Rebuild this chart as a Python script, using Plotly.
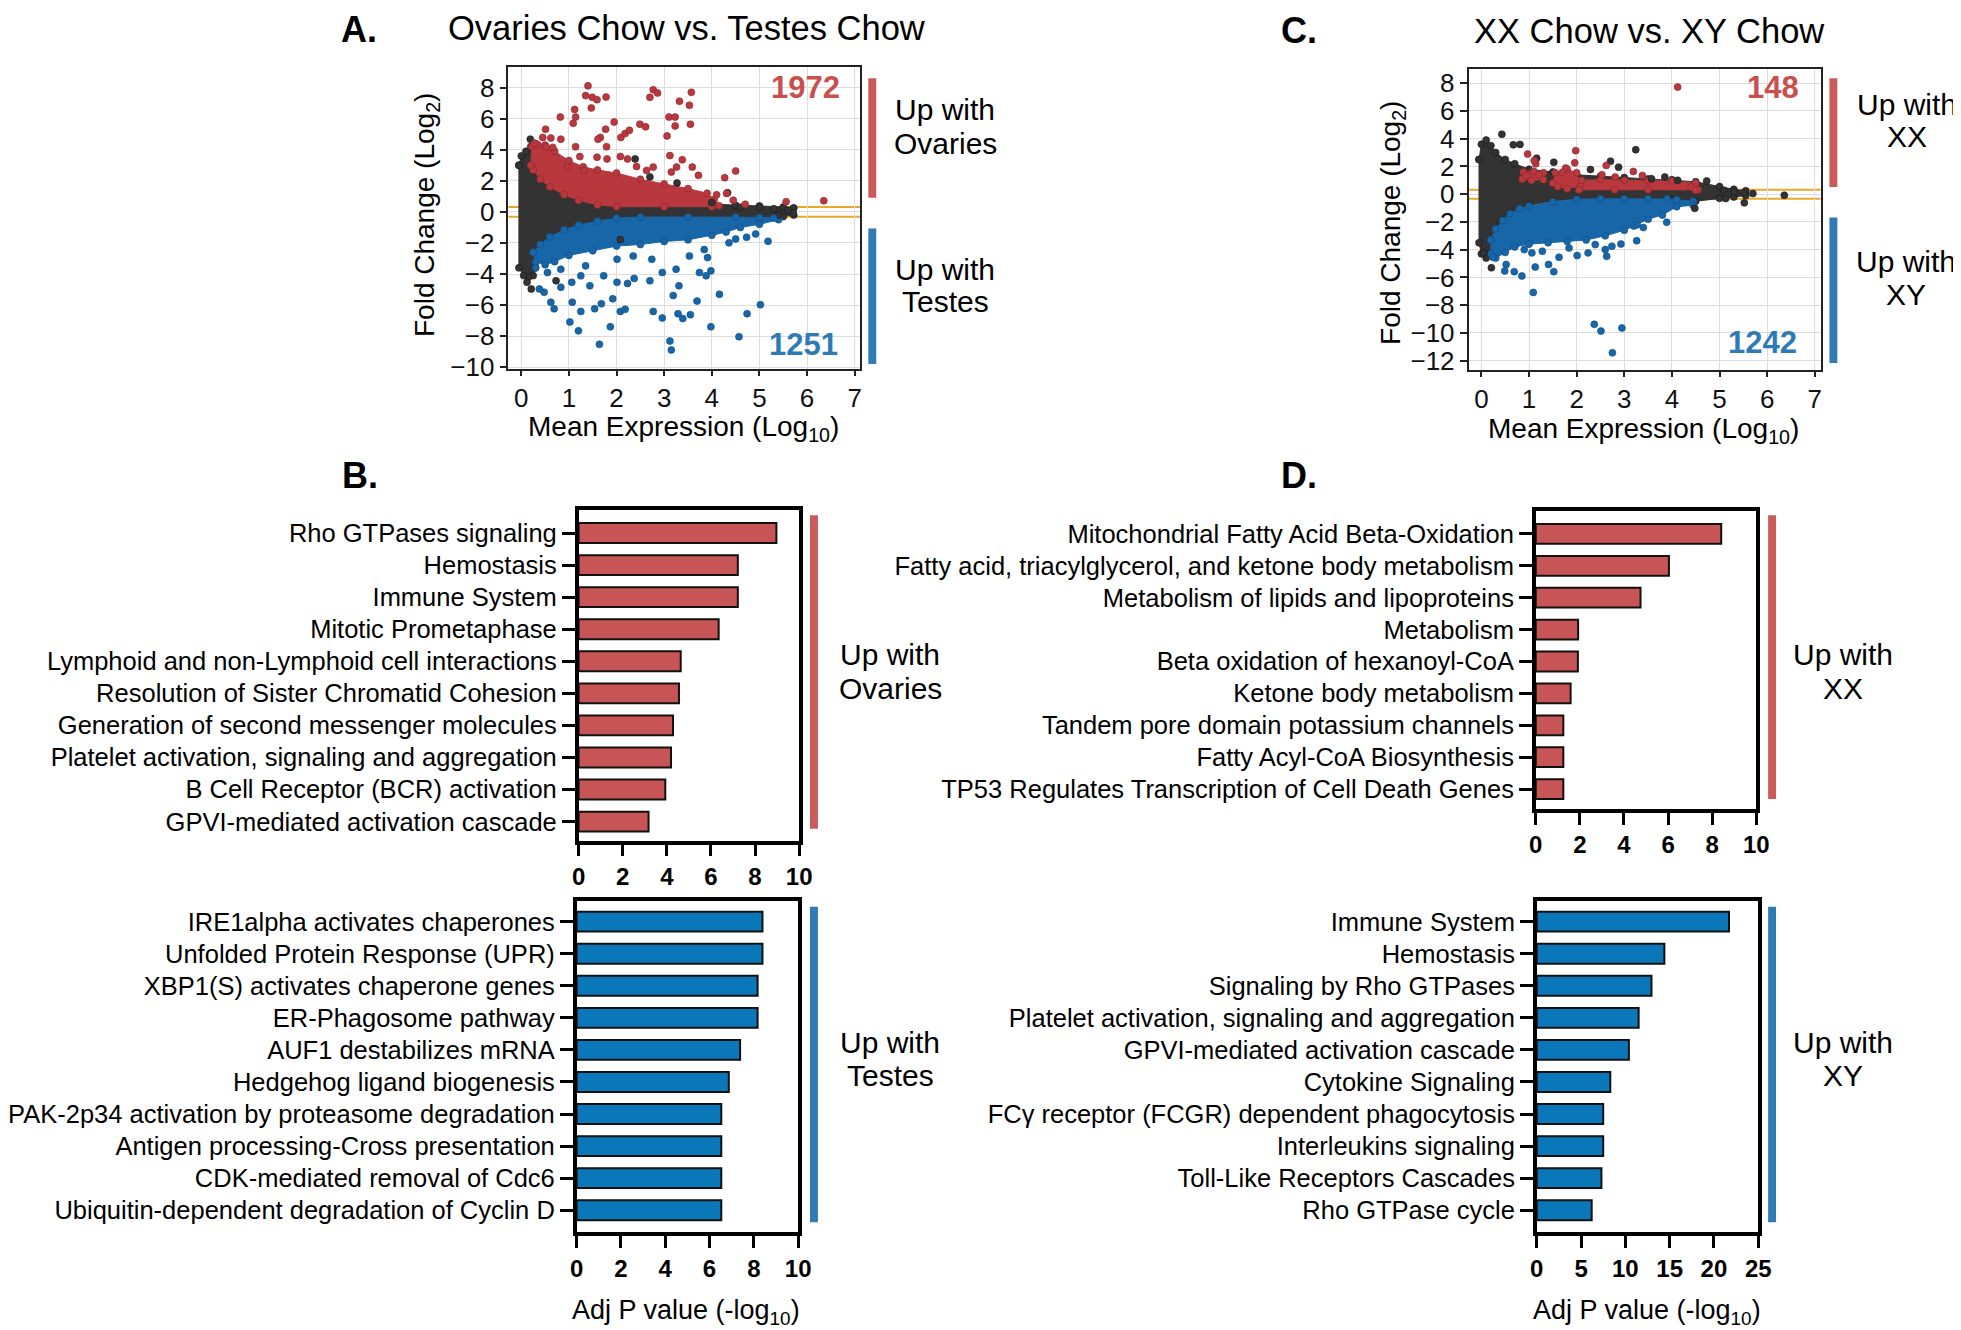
import plotly.graph_objects as go

W, H = 1961, 1330
FONT = "Liberation Sans, Arial, sans-serif"
NARROW = "Liberation Sans Narrow, Liberation Sans, Arial, sans-serif"

RED = "#B9383E"
RED_EDGE = "#8C272C"
BLUE = "#1766A8"
BLUE_EDGE = "#0F4E85"
GREY = "#333333"
GREY_EDGE = "#1A1A1A"
BAR_RED = "#C85556"
BAR_BLUE = "#0A78B8"
SIDE_RED = "#CB5A5A"
SIDE_BLUE = "#2E7BB5"
THRESH_COLOR = "#E6A92A"

THRESHOLD = 0.32

# ---------------- Panel A: Ovaries Chow vs. Testes Chow (MA plot) ----------------
# dense cloud outlines (mean expression log10, fold change log2)
a_all_outline = [(-0.05, 3.0), (0.0, 3.6), (0.1, 3.9), (0.2, 4.2), (0.5, 3.0), (1.0, 2.0),
                 (2.0, 1.0), (3.0, 0.6), (4.0, 0.5), (4.5, 0.42), (5.0, 0.38), (5.5, 0.32),
                 (5.72, 0.25), (5.72, -0.2), (5.5, -0.3), (5.0, -0.5), (4.0, -0.6),
                 (3.0, -0.8), (2.0, -1.0), (1.0, -1.8), (0.5, -2.8), (0.3, -3.6),
                 (0.25, -4.1), (0.15, -4.2), (0.05, -4.1), (-0.05, -3.6)]
a_up_outline = [(0.2, 3.0), (0.22, 4.2), (0.3, 4.4), (0.5, 4.3), (0.7, 3.9), (1.0, 3.3),
                (1.3, 2.9), (1.6, 2.7), (2.0, 2.5), (2.5, 2.1), (3.0, 1.8), (3.5, 1.5),
                (3.9, 1.2), (4.05, 0.8), (4.15, 0.4), (4.0, 0.33), (3.0, 0.33), (2.0, 0.33),
                (1.6, 0.45), (1.2, 0.75), (0.9, 1.1), (0.6, 1.6), (0.4, 2.1), (0.25, 2.7)]
a_down_outline = [(0.25, -2.6), (0.4, -2.1), (0.6, -1.6), (0.9, -1.15), (1.2, -0.85),
                  (1.6, -0.6), (2.0, -0.4), (2.5, -0.33), (3.5, -0.33), (4.5, -0.33),
                  (5.0, -0.36), (5.4, -0.36), (5.4, -0.5), (5.0, -0.8), (4.6, -1.0),
                  (4.3, -1.3), (4.0, -1.5), (3.5, -1.8), (3.0, -1.9), (2.5, -2.1),
                  (2.0, -2.2), (1.5, -2.5), (1.0, -2.8), (0.7, -3.2), (0.5, -3.4), (0.3, -3.2)]
a_up_points = [(1.40, 8.11), (1.35, 7.48), (1.49, 7.37), (1.59, 7.22), (1.78, 7.39), (1.47, 6.69),
               (1.12, 6.59), (1.14, 6.10), (1.09, 5.70), (0.82, 6.10), (0.51, 5.32), (1.95, 5.78),
               (1.77, 5.32), (1.66, 4.79), (1.61, 4.68), (1.79, 4.19), (2.09, 4.79), (2.18, 5.04),
               (2.27, 5.25), (2.49, 5.64), (2.61, 5.47), (2.77, 7.86), (2.86, 7.65), (2.70, 7.37),
               (3.57, 7.69), (3.32, 7.12), (3.53, 6.86), (3.10, 6.10), (3.23, 6.10), (3.23, 5.53),
               (3.06, 4.89), (3.55, 5.64), (3.38, 3.35), (3.59, 2.88), (3.72, 2.35), (4.27, 2.20),
               (4.50, 2.63), (4.31, 1.19), (4.70, 0.49), (5.56, 0.66), (3.12, 3.62), (3.26, 2.88),
               (3.15, 2.56), (2.77, 2.88), (2.63, 2.67), (2.42, 2.92), (2.08, 3.56), (2.23, 3.41),
               (1.80, 3.41), (1.59, 3.52), (1.23, 3.56), (1.14, 4.19), (0.83, 4.68), (0.62, 4.75),
               (0.45, 4.79), (0.35, 4.32), (0.28, 4.41), (0.52, 4.19), (0.66, 4.15), (0.97, 2.88),
               (1.32, 2.67), (6.35, 0.72), (4.45, 0.75), (4.1, 1.1)]
a_ns_points = [(0.19, 4.68), (2.39, 3.41), (3.27, 1.86), (4.33, 1.23), (2.08, -1.78), (0.12, -4.53),
               (0.21, -4.96), (0.73, -4.43), (5.71, 0.23), (5.71, -0.08), (2.70, 2.25), (4.0, 0.6),
               (4.6, 0.3), (5.0, 0.3), (5.3, 0.2), (5.4, -0.2), (5.6, 0.1)]
a_down_points = [(1.64, -8.52), (3.12, -8.31), (3.15, -8.88), (4.57, -8.03), (1.02, -7.08),
                 (1.20, -7.65), (1.25, -6.40), (1.87, -7.39), (2.08, -6.40), (2.18, -6.27),
                 (2.77, -6.40), (2.96, -6.82), (3.29, -6.55), (3.39, -6.86), (3.55, -6.61),
                 (3.98, -7.39), (4.74, -6.55), (5.02, -5.97), (4.16, -5.30), (3.69, -5.74),
                 (3.19, -5.38), (3.31, -4.75), (2.70, -4.43), (2.37, -4.28), (2.23, -4.60),
                 (2.01, -4.53), (1.92, -5.59), (1.68, -5.91), (1.54, -6.23), (1.44, -4.75),
                 (1.07, -5.81), (1.06, -4.53), (0.69, -6.23), (0.62, -5.81), (0.48, -5.17),
                 (0.38, -4.96), (0.83, -4.85), (3.88, -4.11), (3.98, -3.79), (3.74, -3.90),
                 (3.91, -2.94), (3.84, -2.42), (4.36, -1.99), (4.50, -1.74), (4.73, -1.63),
                 (4.92, -1.42), (5.18, -1.89), (5.30, -0.40), (2.96, -3.90), (2.74, -3.05),
                 (2.35, -2.84), (1.73, -4.11), (1.35, -3.47), (1.25, -4.11), (0.83, -3.69),
                 (2.01, -3.05), (3.25, -3.69), (3.53, -2.84), (0.55, -3.9), (0.3, -3.6)]

# ---------------- Panel C: XX Chow vs. XY Chow (MA plot) ----------------
c_all_outline = [(-0.05, 2.5), (0.0, 3.6), (0.1, 3.9), (0.2, 3.5), (0.3, 3.0), (0.5, 2.5),
                 (0.7, 2.2), (1.0, 1.8), (1.5, 1.6), (2.0, 1.4), (2.5, 1.3), (3.0, 1.2),
                 (3.5, 1.1), (4.0, 1.05), (4.5, 0.9), (5.0, 0.55), (5.3, 0.35), (5.55, 0.25),
                 (5.55, -0.1), (5.3, -0.2), (5.0, -0.3), (4.5, -0.5), (4.0, -0.4), (3.0, -0.3),
                 (2.0, -0.35), (1.5, -0.5), (1.0, -0.8), (0.6, -1.4), (0.4, -2.0), (0.25, -3.3),
                 (0.2, -4.3), (0.1, -4.6), (0.0, -4.3), (-0.05, -3.5)]
c_up_outlines = [
    [(0.86, 1.1), (0.88, 1.6), (1.1, 1.65), (1.3, 1.55), (1.3, 1.05), (1.05, 1.0)],
    [(1.5, 0.8), (1.55, 1.55), (1.8, 1.8), (2.0, 1.55), (2.08, 0.6), (1.8, 0.4), (1.6, 0.55)],
    [(2.05, 0.32), (2.1, 1.0), (2.5, 1.05), (3.0, 1.0), (3.5, 0.98), (4.0, 0.95),
     (4.5, 0.8), (4.55, 0.32), (3.5, 0.32), (2.8, 0.32)],
]
c_down_outline = [(0.2, -3.3), (0.3, -2.5), (0.45, -1.9), (0.6, -1.4), (0.8, -1.05), (1.0, -0.85),
                  (1.5, -0.55), (2.0, -0.36), (2.5, -0.33), (3.0, -0.33), (3.5, -0.33),
                  (3.9, -0.34), (4.1, -0.4), (4.45, -0.5), (4.45, -0.8), (4.1, -0.9), (3.8, -1.5),
                  (3.5, -1.8), (3.2, -2.3), (3.0, -2.6), (2.6, -3.0), (2.2, -3.3), (1.8, -3.4),
                  (1.4, -3.5), (1.0, -3.6), (0.7, -3.8), (0.5, -4.2), (0.3, -4.6), (0.2, -4.3)]
c_up_points = [(4.12, 7.72), (0.97, 2.90), (1.98, 3.14), (2.62, 2.07), (1.96, 2.26), (3.19, 1.64),
               (3.38, 1.35), (1.77, 1.88), (1.70, 1.59), (1.14, 2.19), (1.11, 2.42), (0.94, 1.35),
               (1.21, 1.40), (2.53, 1.40), (2.81, 1.24), (4.40, 0.52), (4.50, 0.28)]
c_ns_points = [(0.43, 4.32), (0.67, 3.56), (0.81, 3.59), (3.24, 3.21), (2.71, 2.38), (1.52, 2.30),
               (1.16, 2.59), (2.29, 1.78), (2.88, 1.95), (4.73, 0.95), (5.51, 0.10), (5.70, 0.05),
               (6.36, -0.07), (5.52, -0.62), (4.48, -1.02), (0.21, -5.30), (0.05, -4.23),
               (3.57, 1.12), (3.85, 1.24), (4.12, 1.0), (5.09, 0.28), (5.30, 0.17), (5.13, -0.31)]
c_down_points = [(2.75, -11.43), (2.37, -9.38), (2.51, -9.86), (2.95, -9.64), (1.09, -7.08),
                 (0.85, -5.89), (0.49, -5.53), (0.69, -5.58), (1.52, -5.58), (1.13, -5.25),
                 (1.41, -5.06), (0.52, -5.06), (0.24, -4.54), (1.63, -4.54), (2.01, -4.42),
                 (2.24, -4.23), (2.63, -4.47), (2.60, -3.99), (2.93, -3.59), (3.26, -3.35),
                 (3.89, -2.02), (3.40, -2.40), (3.27, -2.21), (1.06, -4.23), (1.28, -4.11),
                 (0.90, -3.99), (1.84, -3.87), (2.39, -3.63), (2.74, -3.75)]

a_counts = (1972, 1251)
c_counts = (148, 1242)

# ---------------- Panel B: pathways (Ovaries / Testes) ----------------
b_up_terms = ["Rho GTPases signaling", "Hemostasis", "Immune System", "Mitotic Prometaphase",
              "Lymphoid and non-Lymphoid cell interactions", "Resolution of Sister Chromatid Cohesion",
              "Generation of second messenger molecules",
              "Platelet activation, signaling and aggregation",
              "B Cell Receptor (BCR) activation", "GPVI-mediated activation cascade"]
b_up_vals = [8.97, 7.22, 7.22, 6.35, 4.63, 4.55, 4.28, 4.19, 3.93, 3.17]
b_down_terms = ["IRE1alpha activates chaperones", "Unfolded Protein Response (UPR)",
                "XBP1(S) activates chaperone genes", "ER-Phagosome pathway",
                "AUF1 destabilizes mRNA", "Hedgehog ligand biogenesis",
                "PAK-2p34 activation by proteasome degradation",
                "Antigen processing-Cross presentation", "CDK-mediated removal of Cdc6",
                "Ubiquitin-dependent degradation of Cyclin D"]
b_down_vals = [8.39, 8.39, 8.17, 8.17, 7.38, 6.87, 6.53, 6.53, 6.53, 6.53]

# ---------------- Panel D: pathways (XX / XY) ----------------
d_up_terms = ["Mitochondrial Fatty Acid Beta-Oxidation",
              "Fatty acid, triacylglycerol, and ketone body metabolism",
              "Metabolism of lipids and lipoproteins", "Metabolism",
              "Beta oxidation of hexanoyl-CoA", "Ketone body metabolism",
              "Tandem pore domain potassium channels", "Fatty Acyl-CoA Biosynthesis",
              "TP53 Regulates Transcription of Cell Death Genes"]
d_up_vals = [8.41, 6.04, 4.75, 1.92, 1.91, 1.58, 1.25, 1.25, 1.25]
d_down_terms = ["Immune System", "Hemostasis", "Signaling by Rho GTPases",
                "Platelet activation, signaling and aggregation",
                "GPVI-mediated activation cascade", "Cytokine Signaling",
                "FCγ receptor (FCGR) dependent phagocytosis", "Interleukins signaling",
                "Toll-Like Receptors Cascades", "Rho GTPase cycle"]
d_down_vals = [21.7, 14.4, 12.95, 11.5, 10.4, 8.3, 7.5, 7.5, 7.3, 6.2]


def px(x):
    return x / W


def py(y):
    return 1 - y / H


def unzip(points):
    return [p[0] for p in points], [p[1] for p in points]


def join_polys(polys):
    xs, ys = [], []
    for poly in polys:
        x, y = unzip(poly + [poly[0]])
        xs += x + [None]
        ys += y + [None]
    return xs, ys


fig = go.Figure()


def add_cloud(polys, color, edge, xa, ya):
    xs, ys = join_polys(polys)
    fig.add_trace(go.Scatter(
        x=xs, y=ys, xaxis=xa, yaxis=ya, mode="lines+markers", fill="toself",
        fillcolor=color, line=dict(color=color, width=1),
        marker=dict(size=7, color=color, line=dict(color=edge, width=0.6)),
        hoverinfo="skip", showlegend=False))


def add_points(points, color, edge, xa, ya):
    x, y = unzip(points)
    fig.add_trace(go.Scatter(
        x=x, y=y, xaxis=xa, yaxis=ya, mode="markers",
        marker=dict(size=7, color=color, line=dict(color=edge, width=0.6)),
        showlegend=False))


# MA plot A
add_cloud([a_all_outline], GREY, GREY_EDGE, "x", "y")
add_cloud([a_up_outline], RED, RED_EDGE, "x", "y")
add_cloud([a_down_outline], BLUE, BLUE_EDGE, "x", "y")
add_points(a_ns_points, GREY, GREY_EDGE, "x", "y")
add_points(a_up_points, RED, RED_EDGE, "x", "y")
add_points(a_down_points, BLUE, BLUE_EDGE, "x", "y")

# MA plot C
add_cloud([c_all_outline], GREY, GREY_EDGE, "x2", "y2")
add_cloud(c_up_outlines, RED, RED_EDGE, "x2", "y2")
add_cloud([c_down_outline], BLUE, BLUE_EDGE, "x2", "y2")
add_points(c_ns_points, GREY, GREY_EDGE, "x2", "y2")
add_points(c_up_points, RED, RED_EDGE, "x2", "y2")
add_points(c_down_points, BLUE, BLUE_EDGE, "x2", "y2")

# bar panels
bar_sets = [
    (b_up_terms, b_up_vals, BAR_RED, "x3", "y3"),
    (b_down_terms, b_down_vals, BAR_BLUE, "x4", "y4"),
    (d_up_terms, d_up_vals, BAR_RED, "x5", "y5"),
    (d_down_terms, d_down_vals, BAR_BLUE, "x6", "y6"),
]
for terms, vals, color, xa, ya in bar_sets:
    fig.add_trace(go.Bar(
        x=vals, y=terms, orientation="h", xaxis=xa, yaxis=ya, width=0.62,
        marker=dict(color=color, line=dict(color="#111111", width=2)),
        showlegend=False))

ma_x = dict(range=[-0.27, 7.12], tickvals=list(range(0, 8)), showgrid=True,
            gridcolor="#DDDDDD", gridwidth=1, zeroline=False, showline=True,
            linecolor="#222222", linewidth=1.5, mirror=True, ticks="outside",
            ticklen=5, tickwidth=1.5, tickcolor="#222222",
            tickfont=dict(size=26, color="#111111"))
ma_y = dict(showgrid=True, gridcolor="#DDDDDD", gridwidth=1, zeroline=False,
            showline=True, linecolor="#222222", linewidth=1.5, mirror=True,
            ticks="outside", ticklen=7, tickwidth=1.5, tickcolor="#222222",
            tickfont=dict(size=26, color="#111111"))
bar_x = dict(showgrid=False, zeroline=False, showline=True, linecolor="black",
             linewidth=3.5, mirror=True, ticks="outside", ticklen=12, tickwidth=3,
             tickcolor="black",
             tickfont=dict(size=24, family=NARROW, color="black", weight="bold"))
bar_y = dict(type="category", showgrid=False, zeroline=False, showline=True,
             linecolor="black", linewidth=3.5, mirror=True, ticks="outside",
             ticklen=13, tickwidth=3, tickcolor="black",
             tickfont=dict(size=25.5, color="black"))

fig.update_layout(
    width=W, height=H,
    margin=dict(l=0, r=0, t=0, b=0),
    paper_bgcolor="white", plot_bgcolor="white",
    font=dict(family=FONT, color="black"),
    xaxis=dict(ma_x, domain=[px(497), px(853)], anchor="y"),
    yaxis=dict(ma_y, domain=[py(364), py(59)], anchor="x", range=[-10.1, 9.3],
               tickvals=list(range(-10, 9, 2))),
    xaxis2=dict(ma_x, domain=[px(1468), px(1824)], anchor="y2"),
    yaxis2=dict(ma_y, domain=[py(365), py(61)], anchor="x2", range=[-12.66, 9.0],
                tickvals=list(range(-12, 9, 2))),
    xaxis3=dict(bar_x, domain=[px(568), px(791)], anchor="y3", range=[0, 10],
                tickvals=list(range(0, 11, 2))),
    yaxis3=dict(bar_y, domain=[py(841), py(507)], anchor="x3",
                range=[len(b_up_terms) - 1 + 0.59, -0.71]),
    xaxis4=dict(bar_x, domain=[px(566), px(790)], anchor="y4", range=[0, 10],
                tickvals=list(range(0, 11, 2))),
    yaxis4=dict(bar_y, domain=[py(1237), py(902)], anchor="x4",
                range=[len(b_down_terms) - 1 + 0.68, -0.65]),
    xaxis5=dict(bar_x, domain=[px(1536), px(1759)], anchor="y5", range=[0, 10],
                tickvals=list(range(0, 11, 2))),
    yaxis5=dict(bar_y, domain=[py(809), py(508)], anchor="x5",
                range=[len(d_up_terms) - 1 + 0.62, -0.71]),
    xaxis6=dict(bar_x, domain=[px(1537), px(1761)], anchor="y6", range=[0, 25],
                tickvals=list(range(0, 26, 5))),
    yaxis6=dict(bar_y, domain=[py(1237), py(902)], anchor="x6",
                range=[len(d_down_terms) - 1 + 0.68, -0.65]),
)

# threshold lines on MA plots
shapes = []
for xr, yr in [("x", "y"), ("x2", "y2")]:
    for t in (THRESHOLD, -THRESHOLD):
        shapes.append(dict(type="line", xref=xr + " domain", yref=yr, x0=0, x1=1,
                           y0=t, y1=t, line=dict(color=THRESH_COLOR, width=2),
                           layer="below"))

# coloured side bars
side_bars = [
    (865, 70, 191, SIDE_RED), (865, 222, 359, SIDE_BLUE),
    (1837, 70, 180, SIDE_RED), (1837, 211, 358, SIDE_BLUE),
    (806, 512, 829, SIDE_RED), (806, 908, 1227, SIDE_BLUE),
    (1775, 512, 799, SIDE_RED), (1775, 908, 1227, SIDE_BLUE),
]
for cx, y0, y1, col in side_bars:
    shapes.append(dict(type="rect", xref="paper", yref="paper",
                       x0=px(cx - 4), x1=px(cx + 4), y0=py(y1), y1=py(y0),
                       fillcolor=col, line=dict(width=0)))
fig.update_layout(shapes=shapes)

ann = []


def text(x, y, s, size, bold=False, color="black", angle=0, xanchor="center", family=FONT):
    ann.append(dict(x=px(x), y=py(y), xref="paper", yref="paper", text=s,
                    showarrow=False, xanchor=xanchor, yanchor="middle", textangle=angle,
                    font=dict(size=size, color=color, family=family,
                              weight="bold" if bold else "normal")))


# panel letters
text(346, 21, "A.", 36, bold=True)
text(347, 472, "B.", 36, bold=True)
text(1297, 22, "C.", 36, bold=True)
text(1297, 472, "D.", 36, bold=True)

# MA titles and axis titles
text(677, 19, "Ovaries Chow vs. Testes Chow", 34.5)
text(1651, 22, "XX Chow vs. XY Chow", 34.5)
text(674, 424, "Mean Expression (Log<sub>10</sub>)", 28)
text(1645, 426, "Mean Expression (Log<sub>10</sub>)", 28)
text(414, 208, "Fold Change (Log<sub>2</sub>)", 28, angle=-90)
text(1391, 216, "Fold Change (Log<sub>2</sub>)", 28, angle=-90)

# counts
text(834, 79, str(a_counts[0]), 31, bold=True, color="#C9504E", xanchor="right")
text(832, 339, str(a_counts[1]), 31, bold=True, color="#2C7BB6", xanchor="right")
text(1804, 79, str(c_counts[0]), 31, bold=True, color="#C9504E", xanchor="right")
text(1802, 337, str(c_counts[1]), 31, bold=True, color="#2C7BB6", xanchor="right")

# side labels (two lines each)
side_labels = [
    (939, 102, 136, "Ovaries"), (939, 263, 296, "Testes"),
    (1911, 97, 129, "XX"), (1910, 255, 289, "XY"),
    (883, 653, 687, "Ovaries"), (883, 1045, 1079, "Testes"),
    (1847, 653, 687, "XX"), (1847, 1045, 1079, "XY"),
]
for cx, y1, y2, who in side_labels:
    text(cx, y1, "Up with", 30)
    text(cx, y2, who, 30)

# bar axis titles
text(677, 1318, "Adj P value (-log<sub>10</sub>)", 27)
text(1648, 1318, "Adj P value (-log<sub>10</sub>)", 27)

fig.update_layout(annotations=ann)

fig.write_html("out.html")
